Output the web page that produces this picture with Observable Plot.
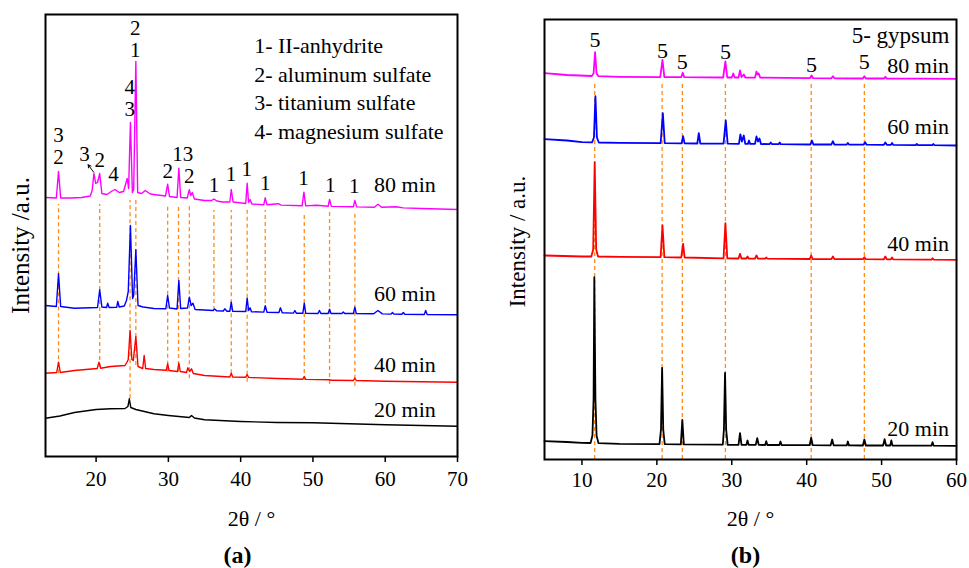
<!DOCTYPE html>
<html>
<head>
<meta charset="utf-8">
<script src="https://cdn.jsdelivr.net/npm/d3@7"></script>
<script src="https://cdn.jsdelivr.net/npm/@observablehq/plot@0.6"></script>
<style>
  html, body { margin: 0; padding: 0; background: #fff; }
  #fig { display: flex; width: 969px; height: 568px; }
  #fig svg, #fig svg text { font-family: "Liberation Serif", "Times New Roman", serif !important; }
</style>
</head>
<body>
<div id="fig"></div>
<script>
// ---------- Panel (a): calcined samples, 2θ vs intensity (stacked, a.u.) ----------
const a80 = [[13,259],[14.5,258.5],[14.8,285],[15.1,258.5],[16.5,258.5],[18,259],[19.2,260.5],[19.45,266],[19.7,283],[19.95,273],[20.2,274],[20.5,283],[20.8,263],[21.5,262],[22.1,265],[22.6,267],[23.2,264],[23.8,265],[24.3,278],[24.5,268],[24.75,334],[25.02,264],[25.2,267],[25.5,395],[25.75,264],[26.3,263],[26.8,266],[27.5,262.5],[28.5,261.5],[29.6,260.5],[29.9,272.3],[30.15,260],[31.2,259],[31.45,288.3],[31.7,259],[32.6,258.5],[32.9,266.7],[33.1,261],[33.3,264],[33.6,257.5],[35,256],[36,256],[36.3,257.5],[36.7,255.5],[37.5,254.5],[38.5,254.5],[38.7,267],[38.95,254.5],[40.7,253],[40.9,273.3],[41.1,254],[41.3,257],[41.55,252.5],[43.2,251.8],[43.4,258.7],[43.65,251.7],[45.2,252.8],[45.6,251.4],[48.5,250.7],[48.75,264.3],[49,250.6],[50.5,251.2],[52.1,250.2],[52.3,257],[52.55,250.1],[55.6,249.7],[55.8,256],[56.05,249.6],[58.5,249.3],[59,252.3],[59.5,249.2],[61.5,249.8],[62.5,248.6],[65,248],[70,247]];
const a60 = [[13,151],[14.5,150],[14.8,182.7],[15.1,150],[17,148.3],[20.2,149],[20.5,166.7],[20.8,149.5],[21.45,149],[21.6,153.3],[21.8,149],[22.85,149.2],[23,155],[23.2,149.5],[23.9,150.5],[24.2,156],[24.45,165],[24.75,231],[25.05,158],[25.2,161],[25.5,206.7],[25.8,151],[26.5,149.5],[28,148],[29.65,147.8],[29.9,161],[30.15,148.5],[31.2,147.5],[31.45,176],[31.7,148],[32.65,148.5],[32.9,159.3],[33.15,151],[33.4,153.3],[33.7,147],[36.2,146],[36.4,147.5],[36.7,145.6],[37.6,145.5],[37.8,147.7],[38.1,145.3],[38.5,145.2],[38.7,154.3],[38.9,145.2],[40.7,145],[40.9,158.3],[41.1,146],[41.3,148.7],[41.5,144.8],[43.2,144.4],[43.4,150.7],[43.65,144.3],[45.3,144],[45.5,148.7],[45.75,143.8],[47.3,143.4],[47.5,146],[47.7,143.3],[48.6,143.2],[48.8,153.3],[49,143.1],[50.7,143],[50.9,146],[51.1,143],[52.1,143],[52.3,147.3],[52.5,143],[54,143],[54.2,144.5],[54.4,143],[55.6,143],[55.8,149.3],[56,142.9],[58.4,142.7],[59,146],[59.6,142.6],[60.8,142.4],[61,144],[61.2,142.4],[62.3,142.3],[62.5,144],[62.7,142.2],[65.4,142],[65.6,146],[65.8,142],[70,141.7]];
const a40 = [[13,83.3],[14.55,84],[14.8,94.3],[15.05,84],[17,86],[20.15,88],[20.4,94.3],[20.65,88.2],[22,90],[24,91],[24.25,94],[24.45,97],[24.7,126],[24.95,97],[25.15,96],[25.5,120],[25.8,90],[26.45,88],[26.65,101],[26.85,88],[28,87],[29.7,86.2],[29.9,92.7],[30.1,86],[31.25,85],[31.45,93.3],[31.65,85],[32.5,84],[32.7,88.7],[32.95,85],[33.2,87.7],[33.45,83],[35,81],[38.5,79.5],[38.7,83.3],[38.9,79.5],[40.7,79.2],[40.9,82],[41.1,79.1],[45,78],[48.6,77.2],[48.8,80],[49,77.1],[52.3,76.8],[52.5,76.2],[55.6,76],[55.8,78.3],[56,76],[60,75.3],[65,74.8],[70,74.3]];
const a20 = [[13,38.3],[15,40.5],[17,44],[20,47],[22,47.7],[24,48],[24.4,50],[24.6,57.7],[24.8,49],[25.5,47],[28,42.7],[30,41],[32.9,39],[33.2,41],[33.6,38.5],[35,36.7],[40,35],[45,34],[50,33.7],[55,32.7],[60,31.7],[65,31],[70,30.3]];

// reference peak positions (2θ) with the intensity span of each guide line
const guideA = [14.8, 20.5, 24.7, 25.5, 29.9, 31.4, 32.9, 36.3, 38.7, 40.9, 43.4, 48.8, 52.3, 55.8];
const guideATop = [252, 252, 256, 256, 252, 252, 252, 246, 246, 248, 246, 244, 244, 244];
const guideABottom = [82.7, 89, 57.7, 91, 84.3, 84, 77.7, 146, 82.7, 74.3, 146, 76, 72, 70.3];

// phase indices over the peaks: [2θ, intensity, label]; stacked indices share one label
const phaseLabelsA = [[18.4,302,"3"],[20.5,296.7,"2"],[22.4,282.7,"4"],[29.9,285.3,"2"],[32.0,302,"13"],[32.9,280,"2"],[36.3,271.7,"1"],[38.65,282,"1"],[40.86,287,"1"],[43.4,273.3,"1"],[48.7,278.7,"1"],[52.4,271,"1"],[55.7,270,"1"]];
const stackedLabelsA = [[14.8,310.2,"3\n2"],[24.65,358.2,"4\n3"],[25.4,417.7,"2\n1"]];
const timeLabelsA = [["80 min",272],["60 min",162.7],["40 min",91.7],["20 min",46.7]];
const phaseKeyA = ["1- II-anhydrite","2- aluminum sulfate","3- titanium sulfate","4- magnesium sulfate"];
const phaseKeyAY = [410.3, 382, 353.7, 324.3];
const ticksA = [20, 30, 40, 50, 60, 70];

// ---------- Panel (b): gypsum patterns ----------
const b80 = [[5,386.3],[8,384.5],[11.3,383.5],[11.55,386],[11.75,407.3],[11.95,386],[12.2,383.3],[15,382.7],[20.45,382.4],[20.75,399.7],[21.0,382.4],[23.25,382.3],[23.45,386.7],[23.65,382.3],[28.85,382],[29.15,398],[29.4,382],[30,382],[30.2,386],[30.4,382],[30.9,382],[31.1,389],[31.3,382.5],[31.6,385],[31.8,382],[33.1,381.9],[33.3,388],[33.45,385],[33.6,386],[33.8,381.8],[40.45,381.4],[40.65,384],[40.85,381.3],[43.3,381.2],[43.5,383.3],[43.7,381.2],[47.5,381],[47.7,383.3],[47.9,381],[50.3,381],[50.5,382.5],[50.7,381],[55,380.9],[60,380.7]];
const b60 = [[5,320.3],[8,319],[10,317.3],[11.35,317.2],[11.6,322],[11.8,363.3],[12.0,322],[12.25,317],[15,316.7],[20.5,316.3],[20.8,346.3],[21.05,316.4],[23.3,316.1],[23.5,323.3],[23.7,316.1],[25.4,316],[25.6,326.3],[25.8,316],[28.9,315.8],[29.2,339],[29.45,315.8],[30.95,315.7],[31.15,325],[31.35,318],[31.6,324],[31.8,315.6],[32.15,315.6],[32.3,319],[32.45,315.6],[33.1,315.6],[33.3,323],[33.5,318],[33.7,321],[33.9,315.5],[35.05,315.4],[35.2,317],[35.35,315.4],[36.25,315.3],[36.4,317],[36.55,315.3],[40.5,315],[40.7,319],[40.9,315],[43.3,315],[43.5,318.3],[43.7,314.9],[45.35,314.9],[45.5,316.5],[45.65,314.9],[47.6,314.8],[47.8,317.3],[48,314.8],[50.3,314.7],[50.5,317],[50.7,314.7],[51.25,314.7],[51.4,316.5],[51.55,314.6],[54.55,314.4],[54.7,315.5],[54.85,314.4],[56.75,314.3],[56.9,315.5],[57.05,314.3],[60,314]];
const b40 = [[5,204],[10,203],[11.25,203],[11.5,210],[11.7,297.3],[11.9,210],[12.15,203],[15,202.7],[20.5,202.3],[20.75,234],[21,202.3],[23.25,202],[23.5,215.7],[23.7,202],[28.9,201.2],[29.15,236.3],[29.4,201.1],[30.9,201],[31.1,205.7],[31.3,201],[31.95,201],[32.1,203],[32.25,201],[33.1,200.9],[33.3,204],[33.5,200.9],[34.45,200.8],[34.6,202],[34.75,200.8],[40.4,200.5],[40.6,204],[40.8,200.5],[43.3,200.4],[43.5,203],[43.7,200.4],[47.5,200.3],[47.7,202.3],[47.9,200.3],[50.3,200.2],[50.5,203],[50.7,200.2],[51.25,200.2],[51.4,202],[51.55,200.1],[56.65,199.9],[56.8,201.3],[56.95,199.9],[60,199.7]];
const b20 = [[5,18.3],[8,17.5],[10,16.7],[11.15,16.5],[11.4,24],[11.55,60],[11.65,182.3],[11.8,60],[11.95,24],[12.2,16.4],[15,15.7],[20.35,15.3],[20.55,30],[20.7,91.7],[20.85,30],[21.05,15.3],[23.2,15.1],[23.4,39.7],[23.6,15.1],[28.8,14.8],[28.95,30],[29.1,86.7],[29.25,30],[29.45,14.7],[30.9,14.7],[31.1,26.3],[31.3,14.7],[31.95,14.7],[32.1,19],[32.25,14.7],[33.2,14.6],[33.4,21.3],[33.6,14.6],[34.45,14.5],[34.6,18.3],[34.75,14.5],[36.35,14.5],[36.5,18],[36.65,14.5],[40.4,14.3],[40.6,21.7],[40.8,14.3],[43.2,14.2],[43.4,20],[43.6,14.2],[45.35,14.1],[45.5,18],[45.65,14.1],[47.5,14],[47.7,20],[47.9,14],[50.2,14],[50.4,20.3],[50.6,14],[51.15,14],[51.3,19],[51.45,14],[56.65,13.8],[56.8,17.3],[56.95,13.8],[60,13.7]];

const guideB = [11.7, 20.7, 23.4, 29.15, 40.6, 47.7];
const guideBTop = 377;
const phaseLabelsB = [[11.75,419.7,"5"],[20.75,409,"5"],[23.4,397.3,"5"],[29.15,407.3,"5"],[40.65,394.7,"5"],[47.7,397.3,"5"]];
const timeLabelsB = [["80 min",394],["60 min",332.3],["40 min",215.7],["20 min",30.7]];
const phaseKeyB = "5- gypsum";
const ticksB = [10, 20, 30, 40, 50, 60];

const FONT = "Liberation Serif";
const ORANGE = "#ff8c1a";
const colors = {m80: "#ff00ff", m60: "#0000ff", m40: "#ff0000", m20: "#000000"};

function curve(data, stroke, w) {
  return Plot.line(data, {x: d => d[0], y: d => d[1], stroke, strokeWidth: w});
}

// ---------- draw (a) ----------
const guideRowsA = guideA.map((x, i) => ({x, y1: guideABottom[i], y2: guideATop[i]}));
const plotA = Plot.plot({
  width: 480, height: 568,
  marginLeft: 45, marginRight: 23, marginTop: 14, marginBottom: 112,
  x: {domain: [13, 70]},
  y: {domain: [0, 442], axis: null},
  style: {fontFamily: FONT, fontSize: "22px", background: "white", overflow: "visible"},
  marks: [
    Plot.ruleX(guideRowsA, {x: "x", y1: "y1", y2: "y2", stroke: ORANGE, strokeDasharray: "4,3", strokeWidth: 1.3}),
    curve(a20, colors.m20, 1.4),
    curve(a40, colors.m40, 1.4),
    curve(a60, colors.m60, 1.4),
    curve(a80, colors.m80, 1.4),
    Plot.text(phaseLabelsA, {x: d => d[0], y: d => d[1], text: d => d[2], fontSize: 21, fontFamily: FONT, fill: "black"}),
    Plot.text(stackedLabelsA, {x: d => d[0], y: d => d[1], text: d => d[2], fontSize: 21, lineHeight: 1.05, fontFamily: FONT, fill: "black"}),
    Plot.arrow([{x1: 19.67, y1: 284.3, x2: 18.9, y2: 291.7}], {x1: "x1", y1: "y1", x2: "x2", y2: "y2", stroke: "black", strokeWidth: 1, headLength: 6}),
    Plot.text(timeLabelsA, {x: () => 67.0, y: d => d[1], text: d => d[0], textAnchor: "end", fontSize: 22, fontFamily: FONT, fill: "black"}),
    Plot.text(phaseKeyA, {x: () => 41.87, y: (d, i) => phaseKeyAY[i], text: d => d, textAnchor: "start", fontSize: 22, fontFamily: FONT, fill: "black"}),
    Plot.frame({stroke: "black", strokeWidth: 2}),
    Plot.axisX({ticks: ticksA, tickSize: 6, tickPadding: 9, fontSize: 21, fontFamily: FONT, strokeWidth: 1.5, label: null}),
    Plot.text(["2θ / °"], {frameAnchor: "bottom", text: d => d, lineAnchor: "middle", dy: 62, fontSize: 22, fontFamily: FONT}),
    Plot.text(["Intensity /a.u."], {frameAnchor: "left", text: d => d, textAnchor: "middle", lineAnchor: "middle", rotate: -90, dx: -25, dy: 10, fontSize: 25, fontFamily: FONT}),
    Plot.text(["(a)"], {frameAnchor: "bottom", text: d => d, lineAnchor: "middle", dx: -14, dy: 99, fontSize: 24, fontWeight: "bold", fontFamily: FONT})
  ]
});

// ---------- draw (b) ----------
const guideRowsB = guideB.map(x => ({x, y1: 0, y2: guideBTop}));
const plotB = Plot.plot({
  width: 489, height: 568,
  marginLeft: 64, marginRight: 13, marginTop: 19, marginBottom: 109,
  x: {domain: [5, 60]},
  y: {domain: [0, 440], axis: null},
  style: {fontFamily: FONT, fontSize: "22px", background: "white", overflow: "visible"},
  marks: [
    Plot.ruleX(guideRowsB, {x: "x", y1: "y1", y2: "y2", stroke: ORANGE, strokeDasharray: "4,3", strokeWidth: 1.3}),
    curve(b20, colors.m20, 1.8),
    curve(b40, colors.m40, 1.8),
    curve(b60, colors.m60, 1.8),
    curve(b80, colors.m80, 1.8),
    Plot.text(phaseLabelsB, {x: d => d[0], y: d => d[1], text: d => d[2], fontSize: 22, fontFamily: FONT, fill: "black"}),
    Plot.text([phaseKeyB], {x: () => 59.05, y: () => 424, text: d => d, textAnchor: "end", fontSize: 23, fontFamily: FONT, fill: "black"}),
    Plot.text(timeLabelsB, {x: () => 59.0, y: d => d[1], text: d => d[0], textAnchor: "end", fontSize: 22, fontFamily: FONT, fill: "black"}),
    Plot.frame({stroke: "black", strokeWidth: 2}),
    Plot.axisX({ticks: ticksB, tickSize: 6, tickPadding: 7, fontSize: 21, fontFamily: FONT, strokeWidth: 1.5, label: null}),
    Plot.text(["2θ / °"], {frameAnchor: "bottom", text: d => d, lineAnchor: "middle", dy: 59, fontSize: 22, fontFamily: FONT}),
    Plot.text(["Intensity / a.u."], {frameAnchor: "left", text: d => d, textAnchor: "middle", lineAnchor: "middle", rotate: -90, dx: -27, dy: 2, fontSize: 23, fontFamily: FONT}),
    Plot.text(["(b)"], {frameAnchor: "bottom", text: d => d, lineAnchor: "middle", dx: -5, dy: 96, fontSize: 24, fontWeight: "bold", fontFamily: FONT})
  ]
});

const fig = document.getElementById("fig");
fig.append(plotA, plotB);
</script>
</body>
</html>
